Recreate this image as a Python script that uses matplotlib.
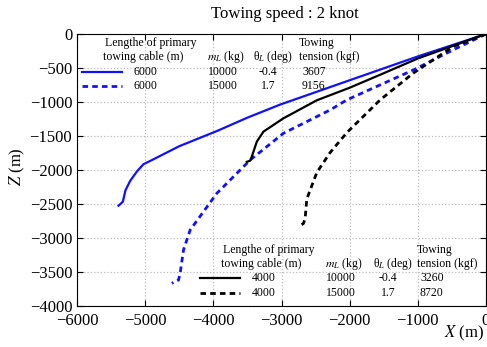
import numpy as np
import matplotlib
matplotlib.use("Agg")
import matplotlib.pyplot as plt
from matplotlib.lines import Line2D

plt.rcParams["font.family"] = ["Liberation Serif", "DejaVu Serif"]
plt.rcParams["mathtext.fontset"] = "stix"

# cable profiles (X, Z) in metres
blue_solid_x = [0, -1000, -2000, -3020, -3500, -3950, -4500, -4927, -5025, -5120, -5220, -5290, -5327, -5391]
blue_solid_z = [0, -330, -680, -1038, -1230, -1428, -1650, -1867, -1915, -2020, -2160, -2300, -2466, -2525]

blue_dash_x = [0, -484, -1066, -2043, -2287, -2972, -3460, -3949, -4340, -4438, -4487, -4511, -4609]
blue_dash_z = [0, -235, -529, -970, -1117, -1460, -1853, -2343, -2882, -3176, -3520, -3618, -3666]

black_solid_x = [0, -1000, -1554, -2000, -2482, -2972, -3265, -3362, -3436, -3460, -3509]
black_solid_z = [0, -360, -600, -790, -975, -1240, -1436, -1583, -1804, -1863, -1880]

black_dash_x = [0, -484, -1066, -1554, -2043, -2287, -2482, -2629, -2654, -2680, -2740]
black_dash_z = [0, -186, -575, -970, -1452, -1744, -2037, -2427, -2720, -2790, -2818]

upper_rows = [("6000", "10000", "-0.4", "3607"), ("6000", "15000", "1.7", "9156")]
lower_rows = [("4000", "10000", "-0.4", "3260"), ("4000", "15000", "1.7", "8720")]

W, H = 487, 347
fig = plt.figure(figsize=(W / 100, H / 100), dpi=100)
ax = fig.add_axes([77 / W, 1 - 306 / H, 409 / W, 272 / H])

dash = (0, (2.0, 1.5))
blue = "#1010ff"
ax.plot(blue_solid_x, blue_solid_z, color=blue, lw=1.6)
ax.plot(blue_dash_x, blue_dash_z, color=blue, lw=2.0, ls=dash)
ax.plot(black_solid_x, black_solid_z, color="black", lw=1.6)
ax.plot(black_dash_x, black_dash_z, color="black", lw=2.0, ls=dash)

ax.set_xlim(-6000, 0)
ax.set_ylim(-4000, 0)
ax.set_xticks(np.arange(-6000, 1, 1000))
ax.set_yticks(np.arange(-4000, 1, 500))
ax.grid(True, ls=":", color="#bbbbbb", lw=0.9)
ax.tick_params(direction="in", top=True, right=True, labelsize=12, length=4)
ax.tick_params(axis="x", pad=5)
for s in ax.spines.values():
    s.set_linewidth(0.8)

fig.text(285 / W, 1 - 14 / H, "Towing speed : 2 knot", ha="center", va="center", fontsize=12)
fig.text(484 / W, 1 - 333 / H, "$X$ (m)", ha="right", va="center", fontsize=12)
fig.text(17 / W, 1 - 167 / H, "$Z$ (m)", ha="center", va="center", fontsize=12, rotation=90)


def px(x, y):
    return x / W, 1 - y / H


def table(rows, color, cols, ys, line_x):
    # cols: x of length header, length value, m_L, theta header, theta value centre, towing
    xl, xv, xm, xt, xtc, xw = cols
    fs = 8.5
    fig.text(*px(xl, ys[0]), "Lengthe of primary", fontsize=fs, va="center")
    fig.text(*px(xl - 2, ys[1]), "towing cable (m)", fontsize=fs, va="center")
    fig.text(*px(xm, ys[1]), "$m_L$ (kg)", fontsize=fs, va="center")
    fig.text(*px(xt, ys[1]), "θ$_L$ (deg)", fontsize=fs, va="center")
    fig.text(*px(xw, ys[0]), "Towing", fontsize=fs, va="center")
    fig.text(*px(xw, ys[1]), "tension (kgf)", fontsize=fs, va="center")
    styles = ["-", dash]
    for i, (L, m, th, T) in enumerate(rows):
        y = ys[2 + i]
        fig.add_artist(Line2D([line_x[0] / W, line_x[1] / W], [1 - y / H] * 2,
                              color=color, lw=1.6 if i == 0 else 2.0, ls=styles[i]))
        fig.text(*px(xv, y), L, fontsize=fs, va="center")
        fig.text(*px(xm + 1, y), m, fontsize=fs, va="center")
        fig.text(*px(xtc, y), th, fontsize=fs, va="center", ha="center")
        fig.text(*px(xw + 3, y), T, fontsize=fs, va="center")


table(upper_rows, blue, (105, 134, 207, 253, 268, 299), (43, 57, 72, 86), (82, 122))
table(lower_rows, "black", (223, 252, 325, 373, 388, 417), (250, 264, 278, 293), (200, 240))

fig.savefig("out.png", dpi=100)
